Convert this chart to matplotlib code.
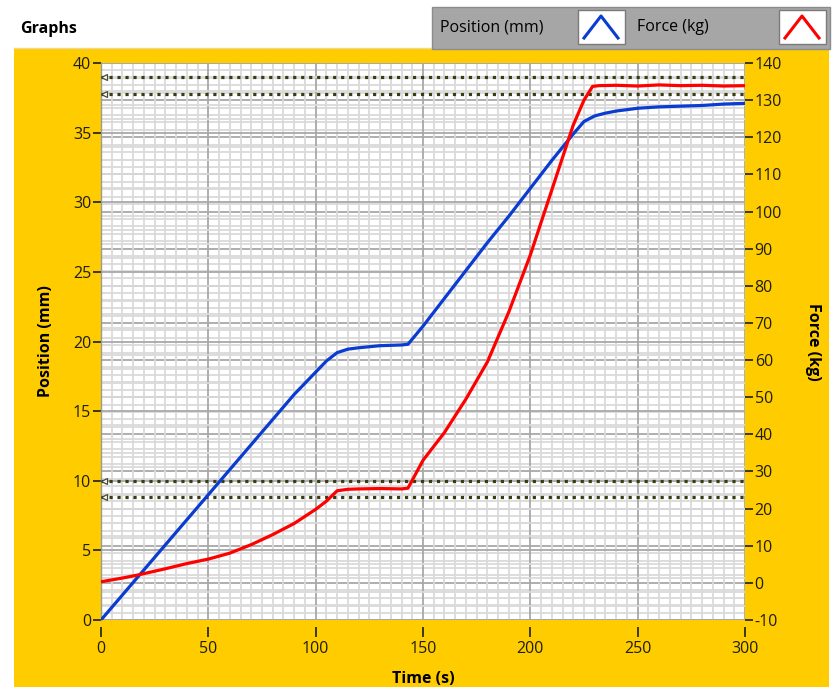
import matplotlib
matplotlib.use("Agg")
import matplotlib.pyplot as plt
from matplotlib.patches import Rectangle
from matplotlib.lines import Line2D
from matplotlib.ticker import MultipleLocator

plt.rcParams['font.family'] = ['Open Sans', 'DejaVu Sans']
plt.rcParams['axes.unicode_minus'] = False

# ---- data ----
time_pos = [0, 10, 20, 30, 40, 50, 60, 70, 80, 90, 95, 100, 105, 110, 115, 120,
            130, 140, 143, 150, 160, 170, 180, 190, 200, 210, 220, 225, 230, 235,
            240, 250, 260, 270, 280, 290, 300]
position_mm = [0, 1.8, 3.6, 5.4, 7.2, 9.0, 10.8, 12.6, 14.4, 16.2, 17.0, 17.8, 18.6,
               19.2, 19.45, 19.55, 19.7, 19.75, 19.8, 21.1, 23.1, 25.1, 27.1, 29.0,
               31.0, 33.0, 34.9, 35.8, 36.2, 36.4, 36.55, 36.75, 36.85, 36.9, 36.95,
               37.05, 37.1]

time_force = [0, 10, 17, 30, 40, 50, 60, 70, 80, 90, 100, 105, 110, 115, 120, 130,
              140, 143, 150, 160, 170, 180, 190, 200, 210, 220, 225, 229, 232, 240,
              250, 260, 270, 280, 290, 300]
force_kg = [0.3, 1.3, 2.1, 3.8, 5.2, 6.4, 8.0, 10.3, 13.0, 16.0, 19.8, 22.0, 24.8,
            25.2, 25.3, 25.4, 25.3, 25.5, 33.0, 40.5, 49.5, 59.5, 73.0, 88.3, 105.8,
            123.3, 130.0, 133.7, 133.9, 134.0, 133.8, 134.1, 133.9, 134.0, 133.8, 133.9]

limit_lines_mm = [39.0, 37.8, 10.0, 8.8]

x_ticks = [0, 50, 100, 150, 200, 250, 300]
pos_ticks = [0, 5, 10, 15, 20, 25, 30, 35, 40]
force_ticks = list(range(-10, 141, 10))

W, H = 835, 687
fig = plt.figure(figsize=(W / 100, H / 100), dpi=100)
fig.patch.set_facecolor('white')

YELLOW = '#ffcc00'
TXT = '#1e1e14'

# yellow panel
fig.add_artist(Rectangle((14 / W, 0), (829 - 14) / W, (H - 48) / H,
                         transform=fig.transFigure, facecolor=YELLOW,
                         edgecolor='none', zorder=0))
fig.add_artist(Line2D([14 / W, 829 / W], [(H - 48) / H] * 2, transform=fig.transFigure,
                      color='#f0d890', lw=1, zorder=1))

# title
fig.text(20 / W, 1 - 29 / H, 'Graphs', fontsize=11.5, fontweight='bold',
         color='black', va='center', ha='left')

# legend panel
fig.add_artist(Rectangle((432 / W, 1 - 49 / H), (830 - 432) / W, (49 - 7) / H,
                         transform=fig.transFigure, facecolor='#a6a6a6',
                         edgecolor='#8c8c8c', lw=1, zorder=2))
fig.text(440 / W, 1 - 27 / H, 'Position (mm)', fontsize=11.5, color='black',
         va='center', ha='left', zorder=3)
fig.text(637 / W, 1 - 27 / H, 'Force (kg)', fontsize=11.5, color='black',
         va='center', ha='left', zorder=3)
for x0, col in [(578, '#0a3cd2'), (779, '#ff0000')]:
    fig.add_artist(Rectangle((x0 / W, 1 - 44 / H), 47 / W, 34 / H,
                             transform=fig.transFigure, facecolor='white',
                             edgecolor='#7a7a7a', lw=1, zorder=3))
    fig.add_artist(Line2D([(x0 + 6) / W, (x0 + 23) / W, (x0 + 40) / W],
                          [1 - 38 / H, 1 - 16 / H, 1 - 38 / H],
                          transform=fig.transFigure, color=col, lw=2.2, zorder=4))

# axes
rect = [101 / W, (H - 620) / H, 644 / W, 557 / H]
ax = fig.add_axes(rect)
ax2 = ax.twinx()
ax.set_zorder(3)
ax2.set_zorder(2)
ax.patch.set_visible(False)
ax2.patch.set_visible(True)
ax2.patch.set_facecolor('white')

ax.set_xlim(0, 300)
ax.set_ylim(0, 40)
ax2.set_ylim(-10, 140)

# grids
ax2.yaxis.set_major_locator(MultipleLocator(10))
ax2.yaxis.set_minor_locator(MultipleLocator(2))
ax2.grid(True, which='major', axis='y', color='#a8a8a8', lw=1.3)
ax2.grid(True, which='minor', axis='y', color='#dadada', lw=1.3)
ax2.set_axisbelow(True)

ax.xaxis.set_major_locator(MultipleLocator(50))
ax.xaxis.set_minor_locator(MultipleLocator(5))
ax.yaxis.set_major_locator(MultipleLocator(5))
ax.yaxis.set_minor_locator(MultipleLocator(1))
ax.grid(True, which='major', axis='both', color='#a8a8a8', lw=1.3, zorder=0)
ax.grid(True, which='minor', axis='both', color='#dadada', lw=1.3, zorder=0)
ax.set_axisbelow(True)

# limit lines
for v in limit_lines_mm:
    ax.plot([0, 300], [v, v], color='#3c3c14', lw=2.3, linestyle=(0, (1, 1.5)),
            dash_capstyle='butt', zorder=3, clip_on=True)
    ax.plot([1.6], [v], marker='<', ms=5, mfc='white', mec='#4a4a30', mew=0.9,
            zorder=4, clip_on=False)

# data
ax.plot(time_pos, position_mm, color='#0a3cd2', lw=2.3, zorder=5,
        solid_joinstyle='round')
ax.plot(time_force, force_kg, color='#ff0000', lw=2.3, zorder=6,
        transform=ax2.transData, solid_joinstyle='round')

ax.set_xlim(0, 300)
ax.set_ylim(0, 40)
ax2.set_ylim(-10, 140)

# ticks
ax.set_xticks(x_ticks)
ax.set_yticks(pos_ticks)
ax2.set_yticks(force_ticks)
ax.tick_params(axis='both', which='minor', length=0)
ax2.tick_params(axis='y', which='minor', length=0)
ax.tick_params(axis='y', which='major', direction='out', length=6, width=1.2,
               color=TXT, labelcolor=TXT, labelsize=11.5, pad=1)
ax.tick_params(axis='x', which='major', direction='out', length=7, width=1.2,
               color=TXT, labelcolor=TXT, labelsize=11.5, pad=3)
ax2.tick_params(axis='y', which='major', direction='out', length=6, width=1.2,
                color=TXT, labelcolor=TXT, labelsize=11.5, pad=1)
ax.spines['bottom'].set_position(('outward', 5))

for a in (ax, ax2):
    for s in a.spines.values():
        s.set_visible(False)
ax.spines['left'].set_visible(True)
ax.spines['left'].set_color('#9a9a9a')
ax.spines['left'].set_linewidth(1)

ax.set_xlabel('Time (s)', fontsize=11.5, fontweight='bold', color='black', labelpad=10)
ax.set_ylabel('Position (mm)', fontsize=11.5, fontweight='bold', color='black', labelpad=14)
ax2.set_ylabel('Force (kg)', fontsize=11.5, fontweight='bold', color='black',
               rotation=270, labelpad=28)

fig.savefig('out.png', dpi=100, facecolor=fig.get_facecolor())
